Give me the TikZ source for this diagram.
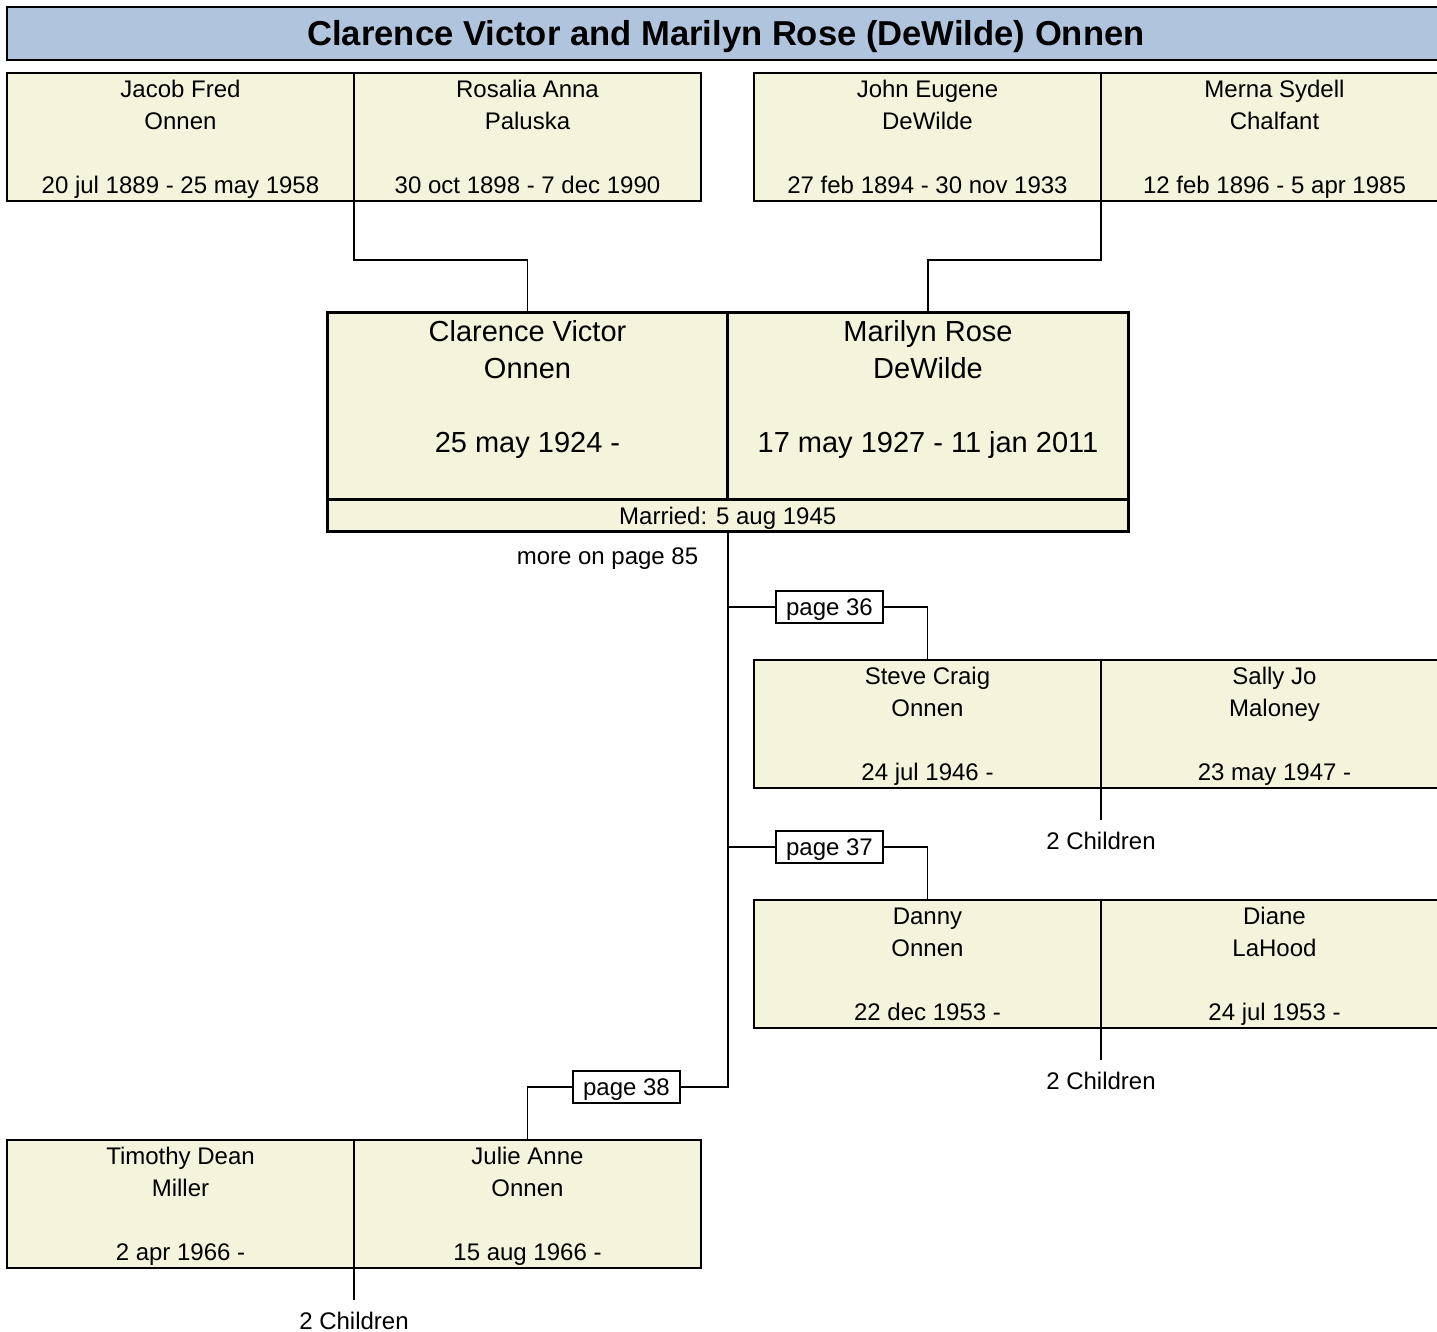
\documentclass[tikz,border=0pt]{standalone}
\usepackage{fontspec}
\setmainfont{Liberation Sans}
\usetikzlibrary{positioning}
\definecolor{titleblue}{HTML}{B0C4DE}
\definecolor{boxbeige}{HTML}{F4F4DC}
\tikzstyle{headbar} = [rectangle, draw=black, line width=1.2pt, fill=titleblue, minimum width=719pt, minimum height=26.5pt, text height=12.4pt, text depth=0pt, font=\fontsize{17.3}{20}\selectfont\bfseries]
\tikzstyle{person} = [rectangle, draw=black, line width=0.75pt, fill=boxbeige, minimum width=173.5pt, minimum height=64pt, inner sep=0pt, outer sep=0pt, align=center, text height=60.25pt, text depth=3.75pt, font=\fontsize{12}{16}\selectfont]
\tikzstyle{bigperson} = [rectangle, draw=black, line width=1.5pt, fill=boxbeige, minimum width=200.25pt, minimum height=93.5pt, inner sep=0pt, outer sep=0pt]
\tikzstyle{bigname} = [align=center, inner sep=0pt, font=\fontsize{14.5}{18.5}\selectfont]
\tikzstyle{marriage} = [rectangle, draw=black, line width=1.5pt, fill=boxbeige, minimum width=400.5pt, minimum height=16pt, inner sep=0pt, outer sep=0pt, text height=8.6pt, text depth=0pt, font=\fontsize{12}{14}\selectfont]
\tikzstyle{pageref} = [rectangle, draw=black, line width=0.75pt, fill=white, minimum width=53.5pt, minimum height=16pt, inner sep=0pt, outer sep=0pt, text height=8.6pt, text depth=0pt, font=\fontsize{12}{14}\selectfont]
\tikzstyle{kids} = [inner xsep=0pt, inner ysep=5.75pt, font=\fontsize{12}{14}\selectfont]
\tikzstyle{note} = [inner sep=0pt, text height=8.6pt, text depth=0pt, font=\fontsize{12}{14}\selectfont]
\tikzstyle{link} = [line width=0.75pt]
\begin{document}
\begin{tikzpicture}[x=0.5pt, y=-0.5pt]
	\useasboundingbox (0,0) rectangle (1437,1332);
	\node (head) [headbar] at (726,33.5) {Clarence Victor and Marilyn Rose (DeWilde) Onnen};

	% parents
	\node (jacob) [person] at (180.5,137) {Jacob Fred\\Onnen\\[16pt]20 jul 1889 - 25 may 1958};
	\node (rosalia) [person, right=0pt of jacob] {Rosalia Anna\\Paluska\\[16pt]30 oct 1898 - 7 dec 1990};
	\node (john) [person] at (927.5,137) {John Eugene\\DeWilde\\[16pt]27 feb 1894 - 30 nov 1933};
	\node (merna) [person, right=0pt of john] {Merna Sydell\\Chalfant\\[16pt]12 feb 1896 - 5 apr 1985};

	% main couple
	\node (clarence) [bigperson] at (527.5,406.5) {};
	\node (marilyn) [bigperson, right=0pt of clarence] {};
	\node (married) [marriage, below=0pt of clarence.south east] {Married: 5 aug 1945};
	\node (clarencetext) [bigname, below=3.7pt of clarence.north] {Clarence Victor\\Onnen\\[18.5pt]25 may 1924 -};
	\node (marilyntext) [bigname, below=3.7pt of marilyn.north] {Marilyn Rose\\DeWilde\\[18.5pt]17 may 1927 - 11 jan 2011};
	\node (more) [note] at (607.5,556) {more on page 85};

	% children
	\node (page36) [pageref] at (829.5,607) {page 36};
	\node (steve) [person] at (927.5,724) {Steve Craig\\Onnen\\[16pt]24 jul 1946 -};
	\node (sally) [person, right=0pt of steve] {Sally Jo\\Maloney\\[16pt]23 may 1947 -};
	\node (kidssteve) [kids, below=16pt of steve.south east] {2 Children};

	\node (page37) [pageref] at (829.5,847) {page 37};
	\node (danny) [person] at (927.5,964) {Danny\\Onnen\\[16pt]22 dec 1953 -};
	\node (diane) [person, right=0pt of danny] {Diane\\LaHood\\[16pt]24 jul 1953 -};
	\node (kidsdanny) [kids, below=16pt of danny.south east] {2 Children};

	\node (page38) [pageref] at (626.5,1087) {page 38};
	\node (timothy) [person] at (180.5,1204) {Timothy Dean\\Miller\\[16pt]2 apr 1966 -};
	\node (julie) [person, right=0pt of timothy] {Julie Anne\\Onnen\\[16pt]15 aug 1966 -};
	\node (kidsjulie) [kids, below=16pt of timothy.south east] {2 Children};

	\draw [link] (jacob.south east) -- ++(0,59) -| (clarence.north);
	\draw [link] (john.south east) -- ++(0,59) -| (marilyn.north);
	\draw [link] (married.south) |- (page38.east);
	\draw [link] (married.south |- page36.west) -- (page36.west);
	\draw [link] (page36.east) -| (steve.north);
	\draw [link] (married.south |- page37.west) -- (page37.west);
	\draw [link] (page37.east) -| (danny.north);
	\draw [link] (page38.west) -| (julie.north);
	\draw [link] (steve.south east) -- (kidssteve.north);
	\draw [link] (danny.south east) -- (kidsdanny.north);
	\draw [link] (timothy.south east) -- (kidsjulie.north);
\end{tikzpicture}
\end{document}
